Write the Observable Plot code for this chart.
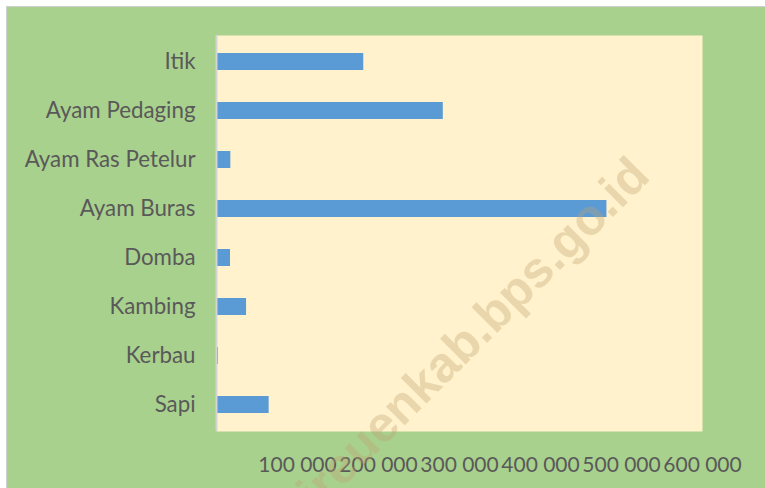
<!DOCTYPE html>
<html>
<head>
<meta charset="utf-8">
<script src="https://cdn.jsdelivr.net/npm/d3@7"></script>
<script src="https://cdn.jsdelivr.net/npm/@observablehq/plot@0.6"></script>
<style>
  html, body { margin: 0; padding: 0; background: #ffffff; }
  #frame {
    position: absolute; left: 6px; top: 6px; width: 759px; height: 482px;
    background: #A9D18E; border-left: 1px solid #d0d0d0; border-top: 1px solid #d0d0d0;
    box-sizing: border-box; overflow: hidden;
  }
  #chart { position: absolute; left: 0; top: 0; }
  #wm { position: absolute; left: 0; top: 0; pointer-events: none; }
</style>
</head>
<body>
<div id="frame"><div id="chart"></div></div>
<svg id="wm" width="765" height="488">
  <text x="462" y="344" transform="rotate(-45 462 344)" text-anchor="middle" dominant-baseline="central"
        font-family="Liberation Sans, Arial, sans-serif" font-weight="bold" font-size="50"
        fill="rgb(190,160,110)" fill-opacity="0.34">bireuenkab.bps.go.id</text>
</svg>
<script>
const categories = ["Itik", "Ayam Pedaging", "Ayam Ras Petelur", "Ayam Buras", "Domba", "Kambing", "Kerbau", "Sapi"];
const values = [181800, 280000, 17700, 482000, 17300, 37100, 2500, 65000];
const xTicks = [100000, 200000, 300000, 400000, 500000, 600000];

const data = categories.map((c, i) => ({category: c, value: values[i]}));
const fmt = d3.formatLocale({thousands: " ", grouping: [3], decimal: ","}).format(",d");

const chart = Plot.plot({
  width: 758,
  height: 481,
  marginLeft: 209,
  marginRight: 63,
  marginTop: 28,
  marginBottom: 57,
  style: {fontFamily: "Lato, 'Open Sans', sans-serif", fontSize: "21px", color: "#595959", background: "transparent"},
  x: {domain: [0, 600000], label: null},
  y: {domain: categories, paddingInner: 0.66, paddingOuter: 0.33, label: null},
  marks: [
    Plot.frame({fill: "#FFF2CC", stroke: null}),
    Plot.barX(data, {x: "value", y: "category", fill: "#5B9BD5", insetLeft: 1}),
    Plot.ruleX([0], {stroke: "#d4d4d4", strokeWidth: 2}),
    Plot.axisX({ticks: xTicks, tickFormat: fmt, tickSize: 0, tickPadding: 26, fontSize: 21, label: null}),
    Plot.axisY({tickSize: 0, tickPadding: 21, fontSize: 22.3, label: null})
  ]
});
document.getElementById("chart").appendChild(chart);
</script>
</body>
</html>
